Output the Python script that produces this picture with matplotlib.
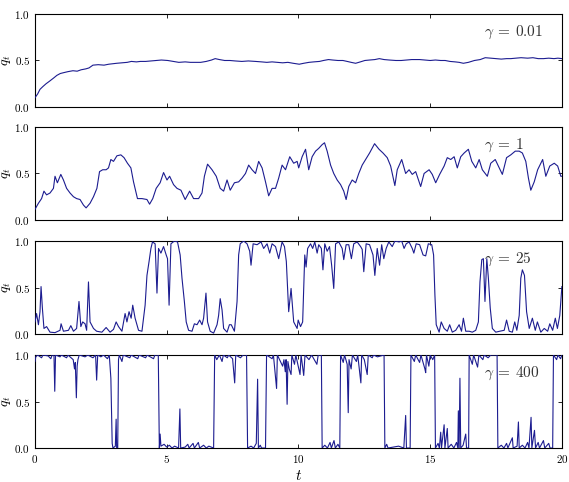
import matplotlib
matplotlib.use("Agg")
import matplotlib.pyplot as plt

plt.rcParams['font.family'] = 'cmr10'
plt.rcParams['mathtext.fontset'] = 'cm'
plt.rcParams['axes.formatter.use_mathtext'] = True

# gamma = 0.01
t_a = [0, 0.1, 0.19, 0.3, 0.42, 0.54, 0.7, 0.83, 0.96, 1.1, 1.25, 1.44, 1.6, 1.75, 1.93, 2.05,
       2.2, 2.4, 2.62, 2.8, 2.95, 3.1, 3.3, 3.5, 3.66, 3.85, 4.0, 4.2, 4.4, 4.6, 4.8, 5.04,
       5.25, 5.46, 5.7, 5.9, 6.1, 6.29, 6.5, 6.7, 6.84, 7.0, 7.2, 7.4, 7.6, 7.85, 8.1, 8.37,
       8.6, 8.8, 9.0, 9.2, 9.4, 9.6, 9.8, 10.03, 10.2, 10.4, 10.58, 10.8, 10.95, 11.14, 11.3,
       11.5, 11.69, 11.85, 12.0, 12.17, 12.35, 12.52, 12.7, 12.9, 13.07, 13.25, 13.45, 13.7,
       13.9, 14.1, 14.3, 14.6, 14.8, 15.0, 15.2, 15.4, 15.57, 15.75, 15.95, 16.1, 16.26,
       16.45, 16.68, 16.9, 17.09, 17.3, 17.5, 17.7, 17.9, 18.06, 18.25, 18.45, 18.7, 18.9,
       19.1, 19.3, 19.5, 19.7, 19.85, 20.0]
q_a = [0.10, 0.14, 0.19, 0.22, 0.25, 0.275, 0.31, 0.34, 0.36, 0.37, 0.38, 0.39, 0.385, 0.40,
       0.41, 0.42, 0.45, 0.455, 0.45, 0.46, 0.465, 0.47, 0.475, 0.48, 0.49, 0.485, 0.49, 0.49,
       0.495, 0.50, 0.505, 0.50, 0.49, 0.48, 0.485, 0.48, 0.48, 0.48, 0.49, 0.505, 0.52, 0.51,
       0.50, 0.50, 0.495, 0.49, 0.495, 0.49, 0.485, 0.48, 0.485, 0.48, 0.475, 0.48, 0.47,
       0.46, 0.47, 0.48, 0.485, 0.49, 0.50, 0.51, 0.505, 0.50, 0.50, 0.49, 0.48, 0.47, 0.485,
       0.50, 0.505, 0.51, 0.52, 0.51, 0.505, 0.50, 0.50, 0.505, 0.51, 0.51, 0.505, 0.50,
       0.505, 0.50, 0.50, 0.49, 0.485, 0.48, 0.47, 0.48, 0.50, 0.51, 0.53, 0.525, 0.52,
       0.515, 0.52, 0.52, 0.525, 0.53, 0.525, 0.53, 0.52, 0.52, 0.525, 0.52, 0.525, 0.52]

# gamma = 1
t_b = [0.0, 0.13, 0.25, 0.34, 0.44, 0.57, 0.70, 0.76, 0.85, 0.98, 1.08, 1.20, 1.33, 1.46,
       1.58, 1.71, 1.84, 1.94, 2.09, 2.22, 2.35, 2.45, 2.57, 2.70, 2.79, 2.88, 2.98, 3.11,
       3.26, 3.38, 3.51, 3.64, 3.74, 3.89, 4.06, 4.25, 4.35, 4.47, 4.60, 4.75, 4.88, 5.01,
       5.11, 5.26, 5.39, 5.54, 5.70, 5.87, 6.02, 6.21, 6.34, 6.43, 6.55, 6.72, 6.88, 7.03,
       7.16, 7.29, 7.41, 7.57, 7.73, 7.86, 7.99, 8.11, 8.24, 8.37, 8.49, 8.62, 8.75, 8.87,
       9.00, 9.13, 9.25, 9.38, 9.51, 9.67, 9.82, 9.95, 10.01, 10.14, 10.27, 10.39, 10.52,
       10.65, 10.77, 10.90, 10.99, 11.09, 11.22, 11.34, 11.47, 11.60, 11.72, 11.81, 11.91,
       12.04, 12.17, 12.29, 12.42, 12.55, 12.70, 12.89, 13.06, 13.21, 13.37, 13.50, 13.66,
       13.75, 13.92, 14.07, 14.20, 14.32, 14.45, 14.64, 14.77, 14.96, 15.08, 15.21, 15.36,
       15.53, 15.65, 15.78, 15.91, 16.03, 16.16, 16.29, 16.45, 16.58, 16.73, 16.86, 16.98,
       17.17, 17.30, 17.47, 17.59, 17.74, 17.90, 18.06, 18.23, 18.38, 18.50, 18.63, 18.73,
       18.82, 18.95, 19.08, 19.27, 19.39, 19.54, 19.71, 19.84, 19.96, 20.0]
q_b = [0.115, 0.18, 0.23, 0.31, 0.27, 0.29, 0.34, 0.47, 0.40, 0.49, 0.43, 0.34, 0.29, 0.25,
       0.23, 0.22, 0.16, 0.13, 0.18, 0.25, 0.34, 0.52, 0.54, 0.54, 0.56, 0.65, 0.63, 0.69,
       0.70, 0.67, 0.61, 0.56, 0.41, 0.23, 0.23, 0.22, 0.17, 0.23, 0.34, 0.40, 0.51, 0.43,
       0.47, 0.38, 0.34, 0.32, 0.22, 0.31, 0.23, 0.23, 0.29, 0.47, 0.60, 0.54, 0.47, 0.34,
       0.31, 0.43, 0.32, 0.40, 0.41, 0.45, 0.50, 0.59, 0.54, 0.50, 0.63, 0.56, 0.41, 0.26,
       0.34, 0.34, 0.45, 0.59, 0.54, 0.68, 0.61, 0.63, 0.56, 0.68, 0.76, 0.54, 0.68, 0.74,
       0.77, 0.81, 0.83, 0.74, 0.59, 0.50, 0.43, 0.38, 0.31, 0.22, 0.36, 0.43, 0.40, 0.50,
       0.59, 0.65, 0.72, 0.82, 0.76, 0.72, 0.67, 0.58, 0.37, 0.54, 0.65, 0.50, 0.54, 0.49,
       0.52, 0.36, 0.50, 0.54, 0.49, 0.40, 0.49, 0.58, 0.67, 0.65, 0.68, 0.56, 0.68, 0.72,
       0.76, 0.63, 0.56, 0.65, 0.54, 0.47, 0.61, 0.65, 0.58, 0.49, 0.67, 0.70, 0.74, 0.74,
       0.72, 0.63, 0.45, 0.32, 0.41, 0.54, 0.65, 0.47, 0.58, 0.61, 0.58, 0.47, 0.47]

# gamma = 25
t_c = [0.0, 0.06, 0.13, 0.19, 0.23, 0.28, 0.34, 0.44, 0.57, 0.76, 0.95, 0.99, 1.08, 1.27,
       1.36, 1.46, 1.58, 1.67, 1.74, 1.81, 1.90, 1.96, 2.03, 2.09, 2.22, 2.34, 2.54, 2.70,
       2.85, 2.98, 3.08, 3.17, 3.30, 3.42, 3.49, 3.57, 3.65, 3.71, 3.80, 3.93, 4.06, 4.18,
       4.25, 4.33, 4.40, 4.46, 4.56, 4.63, 4.69, 4.78, 4.88, 4.98, 5.03, 5.09, 5.16, 5.29,
       5.41, 5.51, 5.58, 5.67, 5.74, 5.83, 5.96, 6.05, 6.15, 6.25, 6.34, 6.40, 6.49, 6.55,
       6.65, 6.78, 6.91, 6.97, 7.03, 7.10, 7.16, 7.29, 7.38, 7.45, 7.57, 7.67, 7.73, 7.79,
       7.92, 8.05, 8.15, 8.20, 8.28, 8.43, 8.58, 8.68, 8.81, 8.91, 9.00, 9.13, 9.25, 9.38,
       9.47, 9.54, 9.63, 9.72, 9.82, 9.95, 9.99, 10.08, 10.16, 10.24, 10.29, 10.35, 10.46,
       10.54, 10.62, 10.71, 10.77, 10.87, 10.93, 11.00, 11.09, 11.18, 11.26, 11.34, 11.41,
       11.53, 11.66, 11.72, 11.81, 11.91, 12.01, 12.10, 12.23, 12.36, 12.42, 12.48, 12.57,
       12.70, 12.83, 12.90, 12.99, 13.08, 13.16, 13.24, 13.33, 13.43, 13.56, 13.66, 13.82,
       13.92, 14.01, 14.09, 14.20, 14.32, 14.38, 14.47, 14.60, 14.73, 14.83, 14.93, 15.06,
       15.13, 15.18, 15.23, 15.34, 15.42, 15.53, 15.65, 15.74, 15.84, 15.97, 16.10, 16.19,
       16.26, 16.35, 16.48, 16.60, 16.73, 16.83, 16.89, 16.96, 17.02, 17.08, 17.15, 17.21,
       17.28, 17.36, 17.49, 17.64, 17.81, 17.90, 18.00, 18.12, 18.21, 18.29, 18.38, 18.44,
       18.50, 18.58, 18.66, 18.76, 18.88, 18.99, 19.07, 19.20, 19.33, 19.46, 19.54, 19.65,
       19.75, 19.83, 19.92, 20.0]
q_c = [0.13, 0.22, 0.10, 0.24, 0.51, 0.28, 0.06, 0.08, 0.02, 0.015, 0.04, 0.11, 0.03, 0.04,
       0.09, 0.03, 0.06, 0.35, 0.08, 0.13, 0.11, 0.04, 0.56, 0.13, 0.06, 0.03, 0.02, 0.07,
       0.02, 0.05, 0.13, 0.08, 0.03, 0.22, 0.13, 0.24, 0.17, 0.31, 0.17, 0.04, 0.03, 0.31,
       0.63, 0.78, 0.92, 0.99, 0.97, 0.44, 0.92, 0.87, 0.94, 0.85, 0.81, 0.31, 0.97, 1.0,
       0.99, 0.85, 0.60, 0.35, 0.13, 0.04, 0.03, 0.11, 0.10, 0.15, 0.10, 0.17, 0.44, 0.13,
       0.03, 0.01, 0.10, 0.20, 0.38, 0.26, 0.06, 0.02, 0.10, 0.10, 0.03, 0.35, 0.85, 0.97,
       1.0, 0.97, 0.89, 0.74, 0.97, 0.96, 0.99, 0.92, 0.97, 0.87, 0.97, 0.94, 0.81, 0.99,
       0.94, 0.78, 0.24, 0.49, 0.13, 0.06, 0.15, 0.08, 0.13, 0.85, 0.72, 0.92, 0.97,
       0.92, 0.99, 0.87, 0.96, 0.92, 0.69, 0.97, 0.89, 0.94, 0.74, 0.49, 0.97,
       0.99, 0.92, 0.80, 0.96, 0.96, 0.81, 0.97, 0.99, 0.94, 0.91, 0.67, 0.97,
       0.96, 0.85, 0.63, 0.92, 0.74, 0.96, 0.81, 0.92, 0.99, 0.94, 1.0, 0.99,
       1.0, 0.92, 0.97, 0.99, 0.92, 0.87, 0.97, 0.96, 0.85, 0.84, 0.97, 0.96,
       0.85, 0.42, 0.10, 0.02, 0.13, 0.06, 0.03, 0.10, 0.02, 0.04, 0.10, 0.03,
       0.17, 0.03, 0.03, 0.02, 0.04, 0.13, 0.56, 0.80, 0.81, 0.35, 0.81, 0.60,
       0.28, 0.06, 0.02, 0.03, 0.04, 0.15, 0.03, 0.02, 0.13, 0.04, 0.20, 0.60,
       0.69, 0.63, 0.24, 0.06, 0.17, 0.04, 0.13, 0.02, 0.06, 0.03, 0.11, 0.04,
       0.17, 0.06, 0.20, 0.51]

# gamma = 400
t_d = [0.0, 0.03, 0.1, 0.25, 0.3, 0.5, 0.6, 0.65, 0.72, 0.75, 0.78, 0.95, 1.0, 1.2, 1.25,
       1.45, 1.5, 1.53, 1.57, 1.6, 1.63, 1.68, 1.9, 2.0, 2.2, 2.3, 2.34, 2.38, 2.5, 2.6,
       2.75, 2.82, 2.88, 2.93, 2.96, 3.05, 3.08, 3.1, 3.14, 3.17, 3.2, 3.3, 3.35, 3.6, 3.65,
       3.9, 3.95, 4.2, 4.25, 4.5, 4.55, 4.68, 4.72, 4.75, 4.78, 4.9, 5.0, 5.1, 5.2, 5.3,
       5.45, 5.5, 5.53, 5.7, 5.8, 5.85, 6.0, 6.05, 6.1, 6.2, 6.25, 6.4, 6.5, 6.6, 6.78,
       6.82, 6.9, 7.0, 7.1, 7.15, 7.3, 7.35, 7.5, 7.58, 7.62, 7.8, 7.9, 8.03, 8.07, 8.2,
       8.3, 8.4, 8.45, 8.48, 8.55, 8.6, 8.75, 8.79, 9.0, 9.05, 9.17, 9.2, 9.4, 9.45, 9.5,
       9.53, 9.57, 9.6, 9.65, 9.72, 9.75, 9.85, 9.9, 10.06, 10.1, 10.2, 10.25, 10.4, 10.5,
       10.7, 10.75, 10.87, 10.9, 11.0, 11.1, 11.2, 11.25, 11.35, 11.4, 11.5, 11.57, 11.6,
       11.7, 11.75, 11.85, 11.89, 11.92, 12.0, 12.05, 12.2, 12.25, 12.37, 12.4, 12.5,
       12.61, 12.65, 12.8, 12.85, 13.0, 13.25, 13.28, 13.35, 13.4, 13.6, 13.8, 14.0, 14.07,
       14.1, 14.24, 14.27, 14.4, 14.45, 14.6, 14.65, 14.8, 14.83, 14.86, 14.95, 15.0, 15.1,
       15.17, 15.2, 15.3, 15.35, 15.4, 15.43, 15.53, 15.56, 15.65, 15.68, 15.8, 15.9, 16.0,
       16.05, 16.07, 16.1, 16.13, 16.16, 16.25, 16.35, 16.38, 16.46, 16.48, 16.6, 16.65,
       16.8, 16.85, 17.0, 17.05, 17.2, 17.3, 17.54, 17.57, 17.7, 17.8, 17.9, 17.95, 18.12,
       18.15, 18.3, 18.35, 18.38, 18.5, 18.6, 18.7, 18.75, 18.83, 18.86, 18.96, 19.0, 19.1,
       19.15, 19.3, 19.35, 19.5, 19.55, 19.65, 19.68, 19.8, 19.85, 19.95, 20.0]
q_d = [0.93, 0.98, 1.0, 0.97, 1.0, 0.99, 0.96, 1.0, 1.0, 0.61, 1.0, 0.98, 1.0, 0.97, 1.0,
       0.95, 0.85, 0.92, 0.54, 0.88, 0.95, 1.0, 0.98, 1.0, 0.97, 1.0, 0.73, 1.0, 0.98, 1.0,
       0.96, 1.0, 0.75, 0.05, 0.0, 0.02, 0.31, 0.0, 0.0, 0.95, 1.0, 0.93, 1.0, 0.97, 1.0,
       0.96, 1.0, 0.97, 1.0, 0.96, 1.0, 1.0, 0.0, 0.15, 0.02, 0.04, 0.01, 0.03, 0.0, 0.02,
       0.0, 0.42, 0.0, 0.01, 0.04, 0.0, 0.05, 0.0, 0.02, 0.06, 0.0, 0.03, 0.0, 0.02, 0.0,
       1.0, 0.95, 1.0, 0.93, 1.0, 0.97, 1.0, 0.96, 0.70, 1.0, 0.97, 1.0, 1.0, 0.0, 0.02,
       0.0, 0.05, 0.74, 0.0, 0.03, 0.0, 0.0, 1.0, 0.96, 1.0, 0.64, 1.0, 0.88, 0.95, 0.82,
       0.95, 0.47, 0.93, 0.85, 0.79, 1.0, 0.9, 1.0, 0.79, 1.0, 0.78, 1.0, 0.95, 1.0,
       0.9, 1.0, 1.0, 0.0, 0.03, 0.0, 0.06, 0.0, 0.08, 0.0, 0.04, 0.0, 1.0,
       0.92, 1.0, 0.9, 0.38, 0.95, 0.85, 1.0, 0.93, 1.0, 0.70, 1.0, 0.95,
       0.79, 1.0, 0.97, 1.0, 0.98, 1.0, 0.0, 0.04, 0.0, 0.01, 0.02, 0.0, 0.35,
       0.0, 0.0, 1.0, 0.93, 1.0, 0.92, 1.0, 0.85, 0.81, 1.0, 0.88, 1.0, 0.95,
       1.0, 0.0, 0.05, 0.0, 0.17, 0.0, 0.25, 0.0, 0.21, 0.0, 0.04, 0.0, 0.06,
       0.0, 0.40, 0.0, 0.75, 0.0, 0.03, 0.15, 0.0, 0.0, 1.0, 0.9, 1.0,
       0.87, 1.0, 0.95, 1.0, 0.97, 1.0, 1.0, 0.0, 0.03, 0.0, 0.05, 0.0, 0.11,
       0.0, 0.02, 0.28, 0.0, 0.03, 0.0, 0.06, 0.0, 0.33, 0.0, 0.19, 0.0, 0.06,
       0.0, 0.08, 0.0, 0.05, 0.0, 0.0, 1.0, 0.95, 1.0, 0.96, 1.0]

series = [(t_a, q_a), (t_b, q_b), (t_c, q_c), (t_d, q_d)]
labels = [r'$\gamma\:=\:0.01$', r'$\gamma\:=\:1$', r'$\gamma\:=\:25$', r'$\gamma\:=\:400$']
bottoms = [0.778, 0.5436, 0.307, 0.0705]

fig = plt.figure(figsize=(5.69, 4.82), dpi=100)

for i, ((t, q), lab) in enumerate(zip(series, labels)):
    ax = fig.add_axes([0.0615, bottoms[i], 0.926, 0.193])
    ax.plot(t, q, color='#1c1c90', lw=0.8, zorder=3)
    ax.text(0.852, 0.80, lab, transform=ax.transAxes, fontsize=11, color='#333333',
            va='center', ha='left', zorder=1)
    ax.set_xlim(0, 20)
    ax.set_ylim(0, 1)
    ax.set_yticks([0.0, 0.5, 1.0])
    ax.set_xticks([0, 5, 10, 15, 20])
    ax.tick_params(direction='in', top=True, right=True, labelsize=8, length=3, width=0.6)
    ax.set_ylabel(r'$q_t$', fontsize=10)
    ax.yaxis.set_label_coords(-0.042, 0.5)
    for s in ax.spines.values():
        s.set_linewidth(0.8)
    if i < 3:
        ax.set_xticklabels([])
    else:
        ax.set_xlabel(r'$t$', fontsize=11, labelpad=3)

fig.savefig('out.png', dpi=100)
